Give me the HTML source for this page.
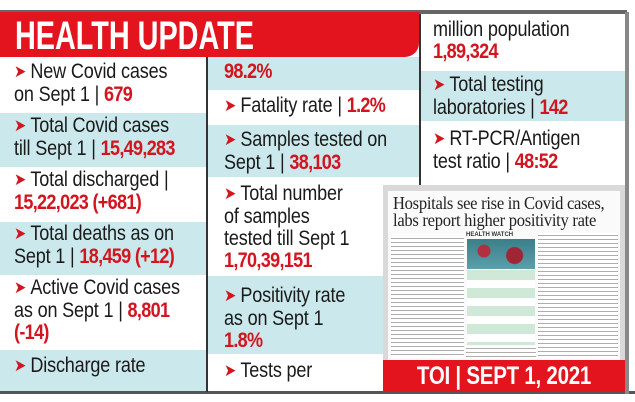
<!DOCTYPE html>
<html><head><meta charset="utf-8">
<style>
*{margin:0;padding:0;box-sizing:border-box}
body{width:635px;height:402px;overflow:hidden;background:#fff;position:relative;font-family:"Liberation Sans",sans-serif}
.abs{position:absolute}
.cy{background:#cbe9ec}
.t{position:absolute;font-size:21px;line-height:22px;color:#1a1a1a;letter-spacing:-0.2px;white-space:nowrap;transform:scaleX(0.86);transform-origin:left top}
.v{color:#d3151f;font-weight:bold;letter-spacing:-0.8px}
.ar{color:#d3151f;font-size:17px;margin-right:5px;position:relative;top:-1px}
.txt{background:repeating-linear-gradient(#fff 0 2px,#9a9a9a 2px 3px,#fff 3px 4px);opacity:.8}
</style></head><body>
<div class="abs" style="left:0;top:10px;width:627px;height:383px;border:2px solid #666;border-left:none"></div>
<div class="abs" style="left:0;top:391px;width:635px;height:3px;background:#555"></div>
<div class="abs" style="left:625px;top:12px;width:4px;height:382px;background:#888"></div>

<div class="abs" style="left:0;top:12px;width:419px;height:45px;background:#e3141e;border-bottom-right-radius:14px"></div>
<div class="abs" style="left:15px;top:14px;font-size:40px;line-height:44px;font-weight:900;color:#fff;letter-spacing:0px;transform:scaleX(0.72);transform-origin:left top;white-space:nowrap">HEALTH UPDATE</div>

<div class="abs" style="left:206px;top:57px;width:2px;height:335px;background:#333"></div>
<div class="abs cy" style="left:0;top:113px;width:206px;height:54px"></div>
<div class="abs cy" style="left:0;top:222px;width:206px;height:53px"></div>
<div class="abs cy" style="left:0;top:350px;width:206px;height:41px"></div>
<div class="t" style="left:14px;top:61px"><span class="ar">➤</span>New Covid cases<br>on Sept 1 | <span class="v">679</span></div>
<div class="t" style="left:14px;top:115px"><span class="ar">➤</span>Total Covid cases<br>till Sept 1 | <span class="v">15,49,283</span></div>
<div class="t" style="left:14px;top:169px"><span class="ar">➤</span>Total discharged |<br><span class="v">15,22,023 (+681)</span></div>
<div class="t" style="left:14px;top:223px"><span class="ar">➤</span>Total deaths as on<br>Sept 1 | <span class="v">18,459 (+12)</span></div>
<div class="t" style="left:14px;top:277px"><span class="ar">➤</span>Active Covid cases<br>as on Sept 1 | <span class="v">8,801</span><br><span class="v">(-14)</span></div>
<div class="t" style="left:14px;top:355px"><span class="ar">➤</span>Discharge rate</div>

<div class="abs cy" style="left:208px;top:57px;width:211px;height:33px"></div>
<div class="abs cy" style="left:208px;top:125px;width:211px;height:52px"></div>
<div class="abs cy" style="left:208px;top:276px;width:211px;height:78px"></div>
<div class="t" style="left:224px;top:61px"><span class="v">98.2%</span></div>
<div class="t" style="left:224px;top:95px"><span class="ar">➤</span>Fatality rate | <span class="v">1.2%</span></div>
<div class="t" style="left:224px;top:129px"><span class="ar">➤</span>Samples tested on<br>Sept 1 | <span class="v">38,103</span></div>
<div class="t" style="left:224px;top:183px"><span class="ar">➤</span>Total number<br>of samples<br>tested till Sept 1<br><span class="v">1,70,39,151</span></div>
<div class="t" style="left:224px;top:285px"><span class="ar">➤</span>Positivity rate<br>as on Sept 1<br><span class="v">1.8%</span></div>
<div class="t" style="left:224px;top:360px"><span class="ar">➤</span>Tests per</div>

<div class="abs" style="left:419px;top:12px;width:2px;height:173px;background:#333"></div>
<div class="abs" style="left:419px;top:12px;width:206px;height:2px;background:#666"></div>
<div class="abs cy" style="left:421px;top:71px;width:204px;height:50px"></div>
<div class="t" style="left:433px;top:19px">million population<br><span class="v">1,89,324</span></div>
<div class="t" style="left:433px;top:74px"><span class="ar">➤</span>Total testing<br>laboratories | <span class="v">142</span></div>
<div class="t" style="left:433px;top:128px"><span class="ar">➤</span>RT-PCR/Antigen<br>test ratio | <span class="v">48:52</span></div>

<div class="abs" style="left:383px;top:185px;width:242px;height:175px;background:#d9d9d9"></div>
<div class="abs" style="left:388px;top:191px;width:232px;height:169px;background:#fafafa"></div>
<div class="abs" style="left:393px;top:195px;font-family:'Liberation Serif',serif;font-size:18px;line-height:17px;color:#222;letter-spacing:-0.3px;white-space:nowrap;transform:scaleX(0.92);transform-origin:left top">Hospitals see rise in Covid cases,<br>labs report higher positivity rate</div>
<div class="abs txt" style="left:391px;top:236px;width:73px;height:122px"></div>
<div class="abs txt" style="left:538px;top:233px;width:80px;height:125px"></div>
<div class="abs" style="left:466px;top:232px;width:70px;height:6px;font-size:6px;font-weight:bold;color:#333">HEALTH WATCH</div>
<div class="abs" style="left:467px;top:239px;width:68px;height:30px;background:radial-gradient(circle at 25% 40%,#b03040 0 6px,transparent 7px),radial-gradient(circle at 70% 55%,#a02535 0 8px,transparent 9px),linear-gradient(#3a7e8a,#5aa0aa)"></div>
<div class="abs" style="left:467px;top:270px;width:68px;height:75px;background:repeating-linear-gradient(#cfe8d8 0 10px,#fff 10px 18px)"></div>
<div class="abs txt" style="left:466px;top:346px;width:70px;height:12px"></div>
<div class="abs" style="left:383px;top:360px;width:242px;height:32px;background:#e3141e"></div>
<div class="abs" style="left:383px;top:361px;width:242px;text-align:center;font-size:25px;line-height:30px;font-weight:900;color:#fff;letter-spacing:-0.3px;transform:scaleX(0.82);transform-origin:center top;white-space:nowrap">TOI | SEPT 1, 2021</div>
</body></html>
